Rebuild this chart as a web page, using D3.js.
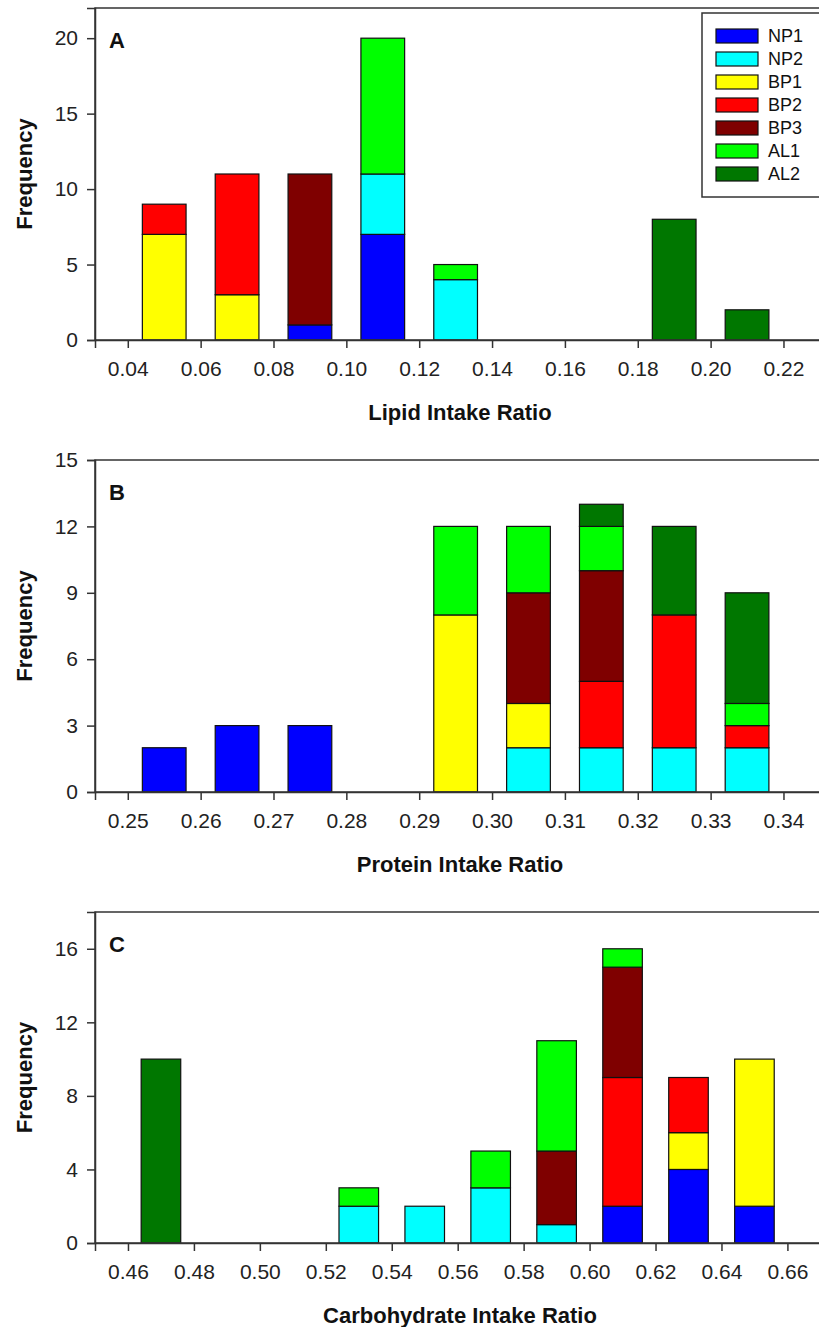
<!DOCTYPE html>
<html>
<head>
<meta charset="utf-8">
<script src="https://cdn.jsdelivr.net/npm/d3@7"></script>
<style>
  body { margin: 0; background: #fff; }
  svg { display: block; font-family: 'Liberation Sans', Arial, sans-serif; }
</style>
</head>
<body>
<div id="chart"></div>
<script>
// groups, bottom to top in every stack
const groups = ['NP1', 'NP2', 'BP1', 'BP2', 'BP3', 'AL1', 'AL2'];
const groupColors = ['#0000ff', '#00ffff', '#ffff00', '#ff0000', '#7f0000', '#00ff00', '#007700'];

// A: lipid intake ratio (columns follow `groups`)
const lipidBins = [0.05, 0.07, 0.09, 0.11, 0.13, 0.19, 0.21];
const lipidCounts = [
  [0, 0, 7, 2, 0, 0, 0],
  [0, 0, 3, 8, 0, 0, 0],
  [1, 0, 0, 0, 10, 0, 0],
  [7, 4, 0, 0, 0, 9, 0],
  [0, 4, 0, 0, 0, 1, 0],
  [0, 0, 0, 0, 0, 0, 8],
  [0, 0, 0, 0, 0, 0, 2]
];
const lipidTicks = [0.04, 0.06, 0.08, 0.10, 0.12, 0.14, 0.16, 0.18, 0.20, 0.22];

// B: protein intake ratio
const proteinBins = [0.255, 0.265, 0.275, 0.295, 0.305, 0.315, 0.325, 0.335];
const proteinCounts = [
  [2, 0, 0, 0, 0, 0, 0],
  [3, 0, 0, 0, 0, 0, 0],
  [3, 0, 0, 0, 0, 0, 0],
  [0, 0, 8, 0, 0, 4, 0],
  [0, 2, 2, 0, 5, 3, 0],
  [0, 2, 0, 3, 5, 2, 1],
  [0, 2, 0, 6, 0, 0, 4],
  [0, 2, 0, 1, 0, 1, 5]
];
const proteinTicks = [0.25, 0.26, 0.27, 0.28, 0.29, 0.30, 0.31, 0.32, 0.33, 0.34];

// C: carbohydrate intake ratio
const carbBins = [0.47, 0.53, 0.55, 0.57, 0.59, 0.61, 0.63, 0.65];
const carbCounts = [
  [0, 0, 0, 0, 0, 0, 10],
  [0, 2, 0, 0, 0, 1, 0],
  [0, 2, 0, 0, 0, 0, 0],
  [0, 3, 0, 0, 0, 2, 0],
  [0, 1, 0, 0, 4, 6, 0],
  [2, 0, 0, 7, 6, 1, 0],
  [4, 0, 2, 3, 0, 0, 0],
  [2, 0, 8, 0, 0, 0, 0]
];
const carbTicks = [0.46, 0.48, 0.50, 0.52, 0.54, 0.56, 0.58, 0.60, 0.62, 0.64, 0.66];

const width = 819, height = 1327;
const svg = d3.select('#chart').append('svg')
  .attr('width', width).attr('height', height);

const color = d3.scaleOrdinal().domain(groups).range(groupColors);

const panels = [
  { letter: 'A', label: 'Lipid Intake Ratio', bins: lipidBins, counts: lipidCounts,
    xTicks: lipidTicks, xDomain: [0.031, 0.2314], barW: 0.012, yMax: 22, yTicks: [0, 5, 10, 15, 20],
    top: 8, bottom: 340, legend: true },
  { letter: 'B', label: 'Protein Intake Ratio', bins: proteinBins, counts: proteinCounts,
    xTicks: proteinTicks, xDomain: [0.2455, 0.3457], barW: 0.006, yMax: 15, yTicks: [0, 3, 6, 9, 12, 15],
    top: 460, bottom: 792, legend: false },
  { letter: 'C', label: 'Carbohydrate Intake Ratio', bins: carbBins, counts: carbCounts,
    xTicks: carbTicks, xDomain: [0.45, 0.6714], barW: 0.012, yMax: 18, yTicks: [0, 4, 8, 12, 16],
    top: 912, bottom: 1243, legend: false }
];

const left = 95, right = 825;
const fontFamily = "'Liberation Sans', Arial, sans-serif";

panels.forEach(p => {
  const x = d3.scaleLinear().domain(p.xDomain).range([left, right]);
  const y = d3.scaleLinear().domain([0, p.yMax]).range([p.bottom, p.top]);
  const g = svg.append('g');

  const rows = p.bins.map((b, i) => {
    const r = { bin: b };
    groups.forEach((k, j) => { r[k] = p.counts[i][j]; });
    return r;
  });
  const series = d3.stack().keys(groups)(rows);

  g.selectAll('g.layer')
    .data(series)
    .join('g')
    .attr('class', 'layer')
    .attr('fill', d => color(d.key))
    .selectAll('rect')
    .data(d => d.filter(s => s[1] > s[0]))
    .join('rect')
    .attr('x', d => x(d.data.bin - p.barW / 2))
    .attr('width', d => x(d.data.bin + p.barW / 2) - x(d.data.bin - p.barW / 2))
    .attr('y', d => y(d[1]))
    .attr('height', d => y(d[0]) - y(d[1]))
    .attr('stroke', '#111')
    .attr('stroke-width', 1.2);

  // frame
  g.append('rect')
    .attr('x', left).attr('y', p.top)
    .attr('width', right - left).attr('height', p.bottom - p.top)
    .attr('fill', 'none').attr('stroke', '#333').attr('stroke-width', 1.5);

  const xAxis = g.append('g')
    .attr('transform', `translate(0,${p.bottom})`)
    .call(d3.axisBottom(x).tickValues(p.xTicks).tickFormat(d3.format('.2f')).tickSizeOuter(0).tickSize(8).tickPadding(13));
  const yAxis = g.append('g')
    .attr('transform', `translate(${left},0)`)
    .call(d3.axisLeft(y).tickValues(p.yTicks).tickSizeOuter(0).tickSize(8).tickPadding(9));

  [xAxis, yAxis].forEach(a => {
    a.select('.domain').attr('stroke', '#333').attr('stroke-width', 1.5);
    a.selectAll('.tick line').attr('stroke', '#333').attr('stroke-width', 1.5);
    a.selectAll('.tick text').attr('fill', '#222')
      .style('font-size', '21px').style('font-family', fontFamily);
  });

  g.append('text')
    .attr('x', (left + right) / 2)
    .attr('y', p.bottom + 80)
    .attr('text-anchor', 'middle')
    .style('font-size', '22px').style('font-weight', 'bold')
    .attr('fill', '#111')
    .text(p.label);

  g.append('text')
    .attr('transform', `translate(32,${(p.top + p.bottom) / 2}) rotate(-90)`)
    .attr('text-anchor', 'middle')
    .style('font-size', '22px').style('font-weight', 'bold')
    .attr('fill', '#111')
    .text('Frequency');

  g.append('text')
    .attr('x', 109).attr('y', p.top + 40)
    .style('font-size', '22px').style('font-weight', 'bold')
    .attr('fill', '#111')
    .text(p.letter);

  if (p.legend) {
    const lg = g.append('g').attr('transform', 'translate(702,13)');
    lg.append('rect')
      .attr('width', 130).attr('height', 184)
      .attr('fill', '#fff').attr('stroke', '#333').attr('stroke-width', 1.5);
    const item = lg.selectAll('g.item')
      .data(groups)
      .join('g')
      .attr('class', 'item')
      .attr('transform', (d, i) => `translate(14,${23 + i * 23})`);
    item.append('rect')
      .attr('y', -7).attr('width', 42).attr('height', 14)
      .attr('fill', d => color(d)).attr('stroke', '#111').attr('stroke-width', 1.2);
    item.append('text')
      .attr('x', 52).attr('dy', '0.36em')
      .style('font-size', '18px')
      .attr('fill', '#111')
      .text(d => d);
  }
});
</script>
</body>
</html>
